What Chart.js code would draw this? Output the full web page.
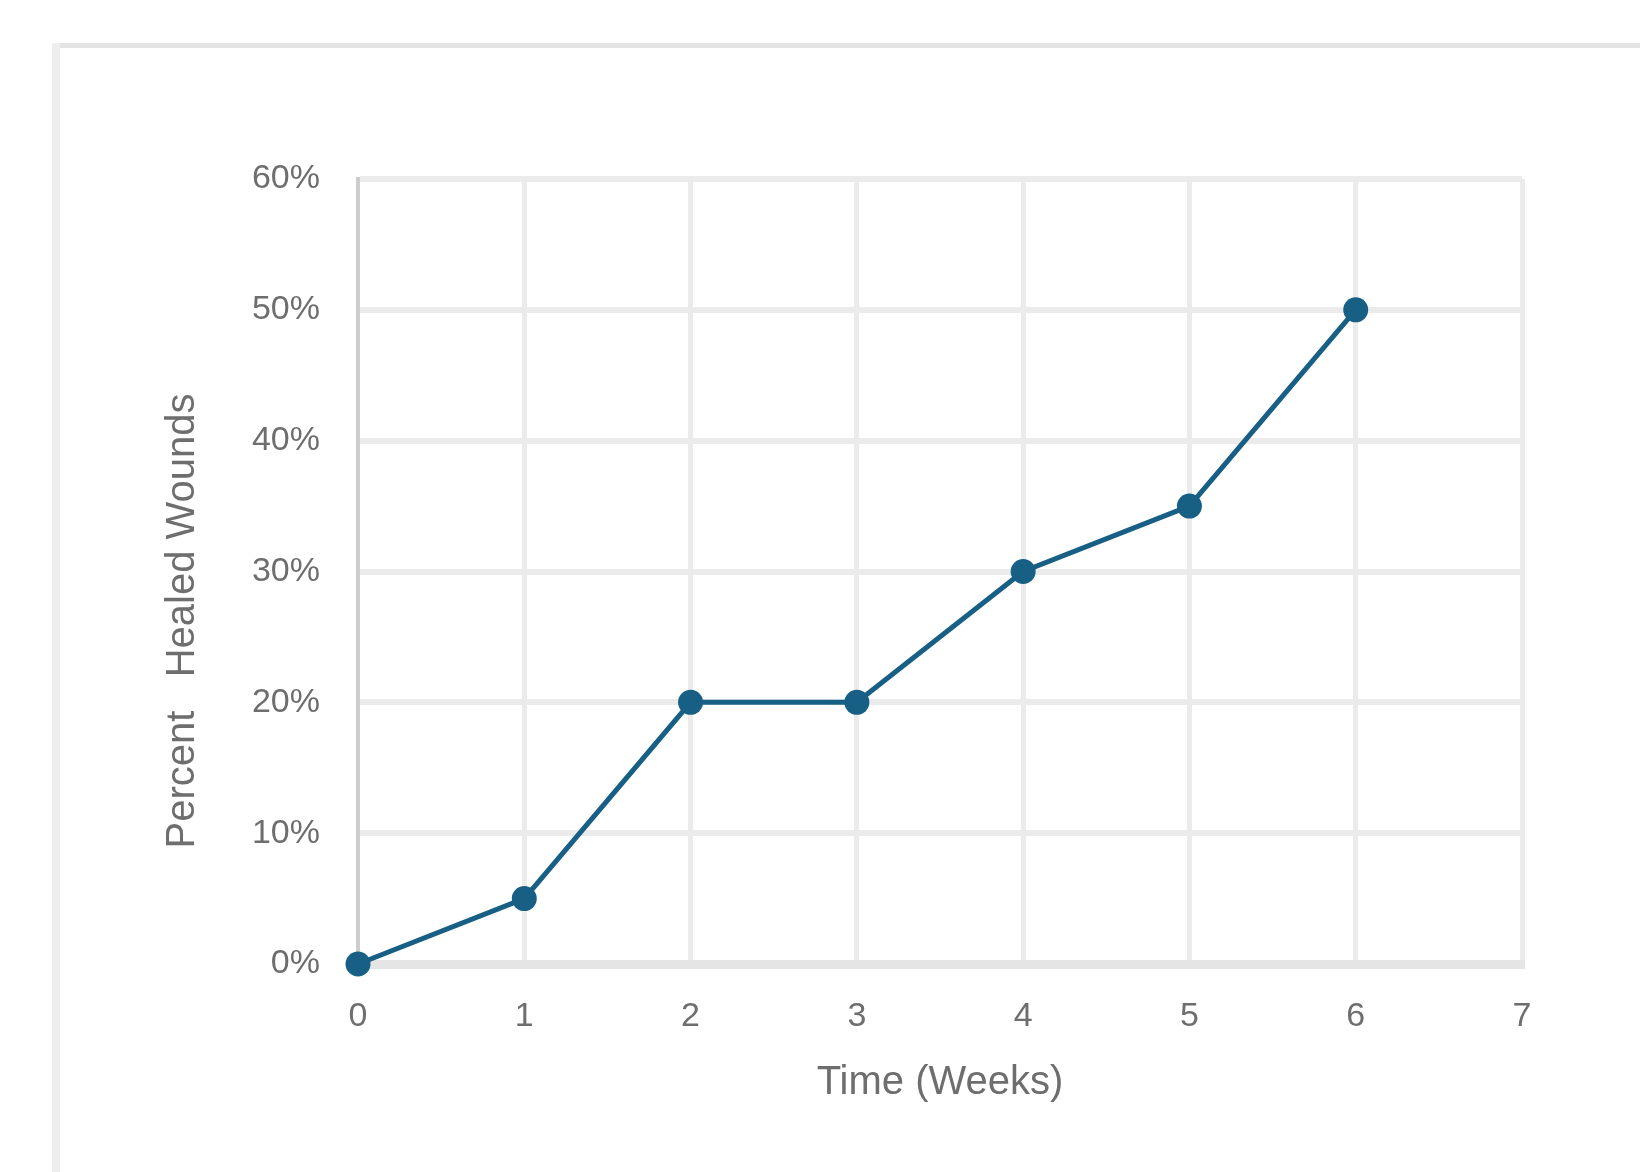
<!DOCTYPE html>
<html>
<head>
<meta charset="utf-8">
<script src="https://cdn.jsdelivr.net/npm/chart.js@4/dist/chart.umd.min.js"></script>
<style>
  html, body { margin: 0; padding: 0; background: #ffffff; }
  #wrap { width: 1640px; height: 1172px; position: relative; }
</style>
</head>
<body>
<div id="wrap"><canvas id="chart" width="1640" height="1172"></canvas></div>
<script>
// Weeks since start of treatment and share of wounds healed (%)
const weeks = [0, 1, 2, 3, 4, 5, 6];
const healedPct = [0, 5, 20, 20, 30, 35, 50];

const xTitle = 'Time (Weeks)';
const yTitle = 'Percent   Healed Wounds';
const xRange = [0, 7];
const yRange = [0, 60];

const lineColor = '#185f86';
const gridColor = '#ebebeb';
const textColor = '#6e6e6e';
const fontFamily = '"Liberation Sans", Arial, sans-serif';

// Light card outline behind the chart and the rotated y-axis caption
const decor = {
  id: 'decor',
  beforeDraw(chart) {
    const ctx = chart.ctx;
    ctx.save();
    ctx.fillStyle = '#e4e4e4';
    ctx.fillRect(52, 43, chart.width - 52, 5);
    ctx.fillStyle = '#eeeeee';
    ctx.fillRect(52, 43, 8, chart.height - 43);
    ctx.restore();
  },
  afterDraw(chart) {
    const ctx = chart.ctx;
    ctx.save();
    ctx.translate(183, 621);
    ctx.rotate(-Math.PI / 2);
    ctx.font = '40px ' + fontFamily;
    ctx.fillStyle = textColor;
    ctx.textAlign = 'center';
    ctx.textBaseline = 'middle';
    ctx.fillText(yTitle, 0, 0);
    ctx.restore();
  }
};

new Chart(document.getElementById('chart'), {
  type: 'line',
  data: {
    datasets: [{
      data: weeks.map((w, i) => ({ x: w, y: healedPct[i] })),
      borderColor: lineColor,
      backgroundColor: lineColor,
      borderWidth: 5,
      pointRadius: 12.5,
      pointHoverRadius: 12.5,
      pointBorderWidth: 0,
      tension: 0,
      clip: false
    }]
  },
  options: {
    responsive: false,
    animation: false,
    events: [],
    layout: { padding: { left: 0, top: 179, right: 118, bottom: 0 } },
    plugins: { legend: { display: false }, tooltip: { enabled: false } },
    scales: {
      x: {
        type: 'linear',
        min: xRange[0],
        max: xRange[1],
        afterFit(scale) { scale.height = 208; },
        ticks: {
          stepSize: 1,
          padding: 32,
          color: textColor,
          font: { family: fontFamily, size: 34 }
        },
        grid: {
          drawTicks: false,
          lineWidth: 5,
          color: (c) => c.index === 0 ? 'rgba(0,0,0,0)' : gridColor
        },
        border: { display: true, color: '#e5e5e5', width: 9 },
        title: {
          display: true,
          text: xTitle,
          color: textColor,
          font: { family: fontFamily, size: 40 },
          padding: { top: 0, bottom: 65 }
        }
      },
      y: {
        min: yRange[0],
        max: yRange[1],
        afterFit(scale) { scale.width = 358; },
        ticks: {
          stepSize: 10,
          padding: 38,
          color: textColor,
          font: { family: fontFamily, size: 34 },
          callback: (v) => v + '%'
        },
        grid: {
          drawTicks: false,
          lineWidth: 6,
          color: (c) => c.index === 0 ? 'rgba(0,0,0,0)' : gridColor
        },
        border: { display: true, color: '#cdcdcd', width: 4 }
      }
    }
  },
  plugins: [decor]
});
</script>
</body>
</html>
